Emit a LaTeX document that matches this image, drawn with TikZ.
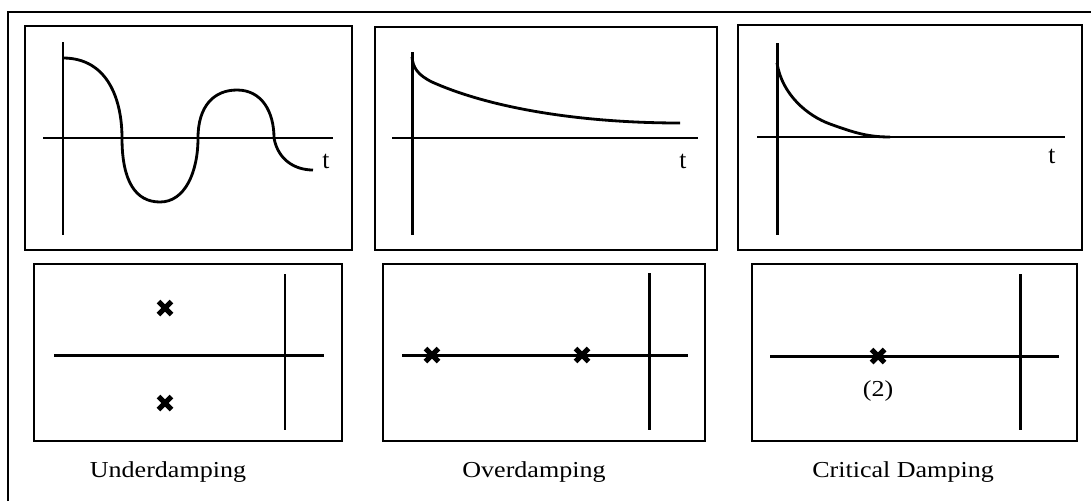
\documentclass[tikz,border=0pt]{standalone}
\usepackage{fontspec}
\setmainfont{Liberation Serif}
\usepackage{tikz}
\usetikzlibrary{calc, positioning}

\newcommand\widetext[1]{\scalebox{1.14}[1]{#1}}

\tikzset{
  panel/.style={line width=1.4pt},
  axis/.style={line width=1.7pt},
  resp/.style={line width=1.6pt},
  pole/.style={line width=3pt},
  tlabel/.style={font=\fontsize{14.5}{16}\selectfont, anchor=base},
  caption/.style={font=\fontsize{13}{15}\selectfont, anchor=base},
}

\begin{document}
\begin{tikzpicture}[x=0.02cm, y=-0.02cm]
  \useasboundingbox (0,0) rectangle (1091,501);

  % outer frame (only top and left show)
  \draw[line width=1.2pt] (8,501) -- (8,12) -- (1091,12);

  % panels
  \foreach \xa/\ya/\xb/\yb in {25/26/352/250, 375/27/717/250, 738/25/1082/250,
                               34/264/342/441, 383/264/705/441, 752/264/1077/441}
    \draw[panel] (\xa,\ya) rectangle (\xb,\yb);

  % time responses: axes
  \draw[axis] (63,42) -- (63,235);
  \draw[axis] (43,138) -- (333,138);
  \draw[axis] (412,52) -- (412,235);
  \draw[axis] (392,138) -- (698,138);
  \draw[axis] (777,43) -- (777,235);
  \draw[axis] (757,137) -- (1065,137);

  % underdamped
  \draw[resp] (63,58) .. controls (108,58) and (122,100) .. (122,138)
    .. controls (122,182) and (136,202) .. (160,202)
    .. controls (185,202) and (198,172) .. (198,138)
    .. controls (198,106) and (214,90) .. (237,90)
    .. controls (262,90) and (274,112) .. (274,138)
    .. controls (278,160) and (295,170) .. (313,170);
  % overdamped
  \draw[resp] (412,57) .. controls (413,68) and (418,75) .. (432,82)
    .. controls (490,108) and (580,123) .. (680,123);
  % critical
  \draw[resp] (777,63) .. controls (782,95) and (808,116) .. (830,124)
    .. controls (855,133) and (868,137) .. (890,137);

  \node[tlabel] (t1) at (326,168) {t};
  \node[tlabel] (t2) at (683,168) {t};
  \node[tlabel] (t3) at (1052,163) {t};

  % pole plots: axes
  \draw[axis] (54,355) -- (324,355);
  \draw[axis] (285,274) -- (285,430);
  \draw[axis] (402,355) -- (688,355);
  \draw[axis] (649,273) -- (649,430);
  \draw[axis] (770,356) -- (1059,356);
  \draw[axis] (1020,274) -- (1020,430);

  % poles
  \foreach \px/\py in {165/308, 165/403, 432/355, 582/355, 878/356}
    \draw[pole] (\px-6.5,\py-6.5) -- (\px+6.5,\py+6.5) (\px-6.5,\py+6.5) -- (\px+6.5,\py-6.5);
  \node[caption] (dbl) at (878,396) {\widetext{(2)}};

  % captions
  \node[caption] (under) at (168,477) {\widetext{Underdamping}};
  \node[caption] (over) at (534,477) {\widetext{Overdamping}};
  \node[caption] (crit) at (903,477) {\widetext{Critical Damping}};
\end{tikzpicture}
\end{document}
